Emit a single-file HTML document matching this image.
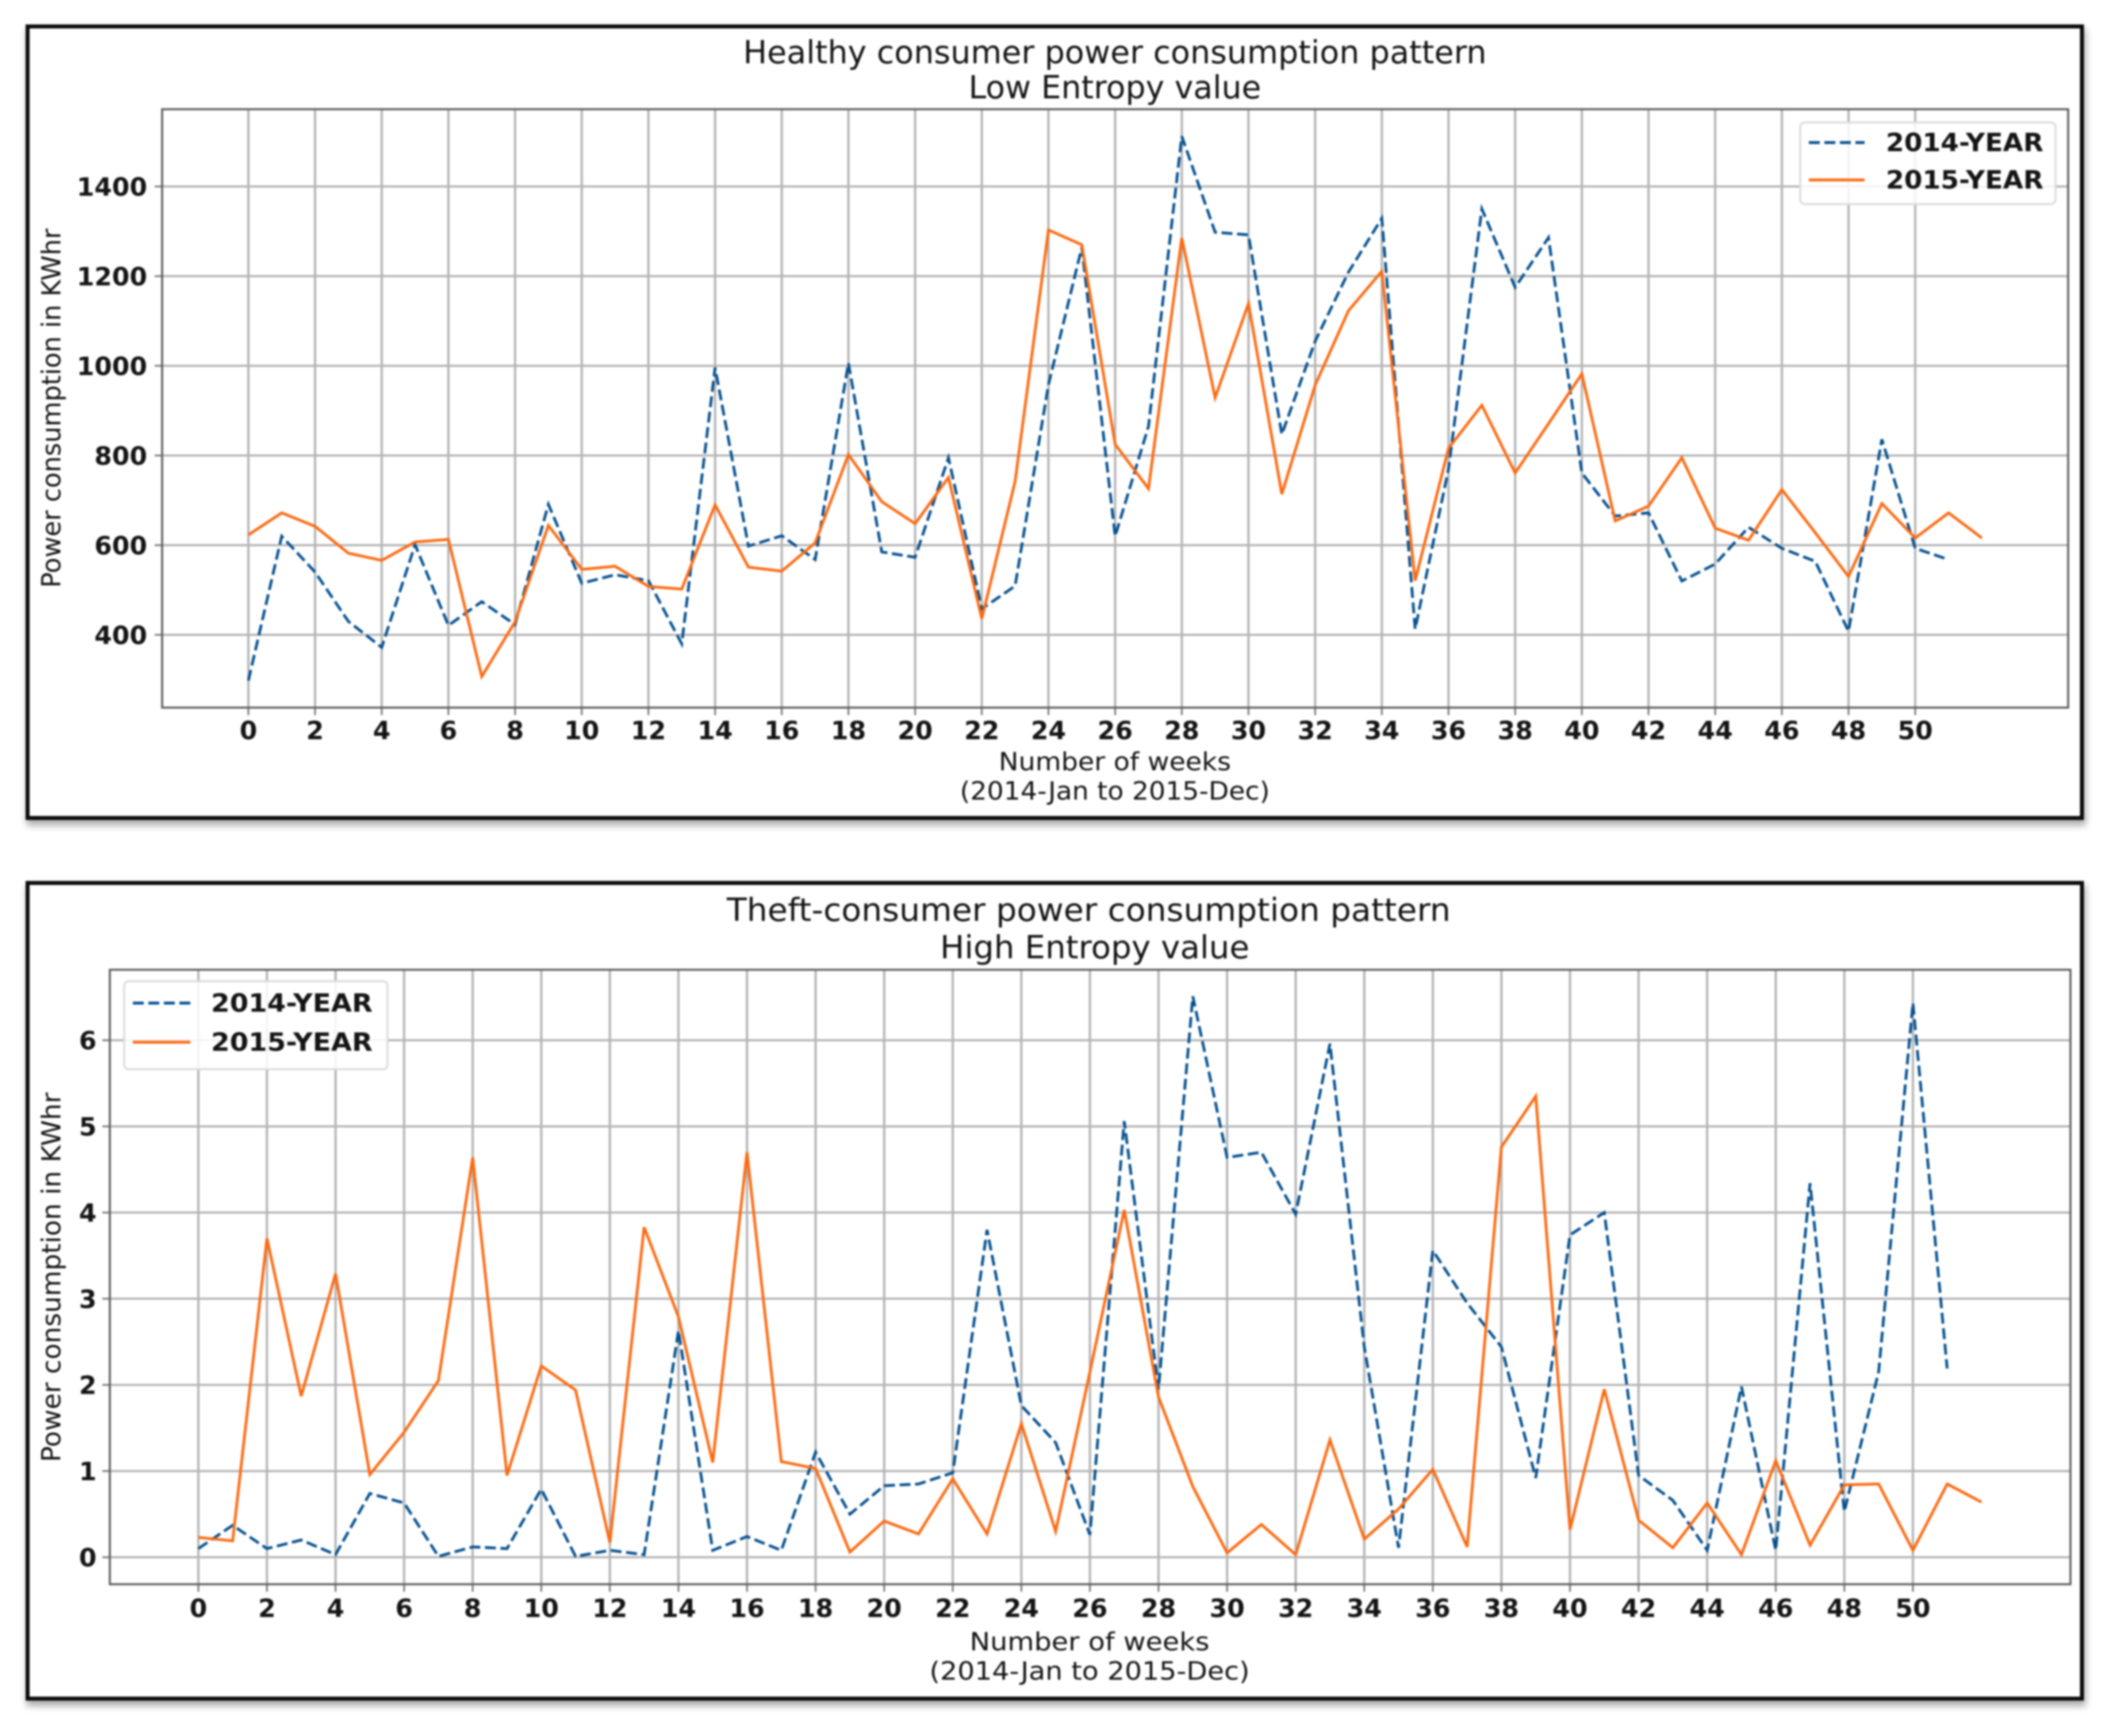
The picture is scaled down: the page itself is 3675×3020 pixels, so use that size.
<!DOCTYPE html>
<html lang="en">
<head>
<meta charset="utf-8">
<title>Consumer power consumption patterns</title>
<style>
  html, body { margin: 0; padding: 0; background: #fff; }
  #stage { display: block; width: 3675px; height: 3020px; filter: blur(1.6px); }
  text { font-family: "DejaVu Sans", "Liberation Sans", sans-serif; fill: #141414; }
</style>
</head>
<body>
<svg id="stage" xmlns="http://www.w3.org/2000/svg" width="3675" height="3020" viewBox="0 0 3675 3020">
  <defs>
    <filter id="soft" x="-5%" y="-5%" width="110%" height="110%"><feGaussianBlur stdDeviation="6"/></filter>
  </defs>
</svg>
<script>
const weekTicks = [0,2,4,6,8,10,12,14,16,18,20,22,24,26,28,30,32,34,36,38,40,42,44,46,48,50];
const seriesNames = ['2014-YEAR','2015-YEAR'];

const healthyYTicks = [400,600,800,1000,1200,1400];
const healthy2014 = [298,620,540,430,372,601,421,474,423,691,515,534,521,380,996,598,621,568,1006,585,573,795,458,509,958,1264,620,865,1512,1298,1292,847,1055,1209,1329,413,770,1350,1175,1286,761,665,672,520,558,640,593,564,408,836,593,568];
const healthy2015 = [623,672,642,582,566,607,613,307,429,644,546,553,508,502,690,551,542,605,802,697,648,751,436,742,1303,1270,825,726,1285,929,1139,714,957,1123,1211,521,816,912,761,871,982,654,687,795,638,611,724,628,530,693,616,672,616];

const theftYTicks = [0,1,2,3,4,5,6];
const theft2014 = [0.10,0.37,0.10,0.20,0.03,0.74,0.63,0.01,0.12,0.10,0.79,0.01,0.08,0.03,2.63,0.08,0.24,0.08,1.22,0.50,0.83,0.85,0.98,3.80,1.76,1.33,0.26,5.06,1.95,6.51,4.64,4.70,3.98,5.96,2.44,0.11,3.56,2.95,2.44,0.92,3.74,4.00,0.95,0.66,0.08,1.98,0.08,4.34,0.53,2.15,6.43,2.19];
const theft2015 = [0.23,0.19,3.70,1.87,3.29,0.96,1.45,2.05,4.64,0.95,2.22,1.94,0.17,3.83,2.79,1.10,4.70,1.11,1.03,0.06,0.42,0.27,0.91,0.27,1.55,0.30,2.15,4.03,1.86,0.82,0.05,0.38,0.03,1.36,0.21,0.56,1.02,0.12,4.76,5.35,0.32,1.95,0.43,0.11,0.63,0.03,1.12,0.14,0.84,0.85,0.08,0.85,0.64];

const NS = 'http://www.w3.org/2000/svg';
const svg = document.getElementById('stage');
const BLUE = '#05508f';
const ORANGE = '#fb6a12';

function make(parent, tag, props, text) {
  const el = document.createElementNS(NS, tag);
  for (const k in props) el.setAttribute(k, props[k]);
  if (text !== undefined) el.textContent = text;
  parent.appendChild(el);
  return el;
}

function label(parent, name, str, props) {
  const el = make(parent, 'text', props, str);
  
  
  return el;
}

function drawPanel(p) {
  const g = make(svg, 'g', {});
  
  

  const shadow = make(g, 'rect', { x: p.frame.x0 - 2, y: p.frame.y0 + 4, width: p.frame.x1 - p.frame.x0 + 9, height: p.frame.y1 - p.frame.y0 + 9, fill: '#000', opacity: 0.32, filter: 'url(#soft)' });
  
  

  const frame = make(g, 'rect', { x: p.frame.x0, y: p.frame.y0, width: p.frame.x1 - p.frame.x0, height: p.frame.y1 - p.frame.y0, fill: '#fff', stroke: '#0c0c0c', 'stroke-width': 7 });
  
  

  const xScale = v => p.x0px + v * p.xUnit;
  const yScale = v => p.yZeroPx - v * p.yUnit;

  p.yTicks.forEach(t => {
    const line = make(g, 'line', { x1: p.ax.x0, x2: p.ax.x1, y1: yScale(t), y2: yScale(t), stroke: '#b0b0b0', 'stroke-width': 3.5 });
    
    
    const mark = make(g, 'line', { x1: p.ax.x0 - 13, x2: p.ax.x0, y1: yScale(t), y2: yScale(t), stroke: '#777', 'stroke-width': 3 });
    
    
    label(g, 'y-tick-label', String(t), { x: p.yLabelRight, y: yScale(t) + 16, 'text-anchor': 'end', 'font-size': 44, 'font-weight': 'bold' });
  });
  weekTicks.forEach(t => {
    const line = make(g, 'line', { x1: xScale(t), x2: xScale(t), y1: p.ax.y0, y2: p.ax.y1, stroke: '#b4b4b4', 'stroke-width': 4 });
    
    
    const mark = make(g, 'line', { x1: xScale(t), x2: xScale(t), y1: p.ax.y1, y2: p.ax.y1 + 13, stroke: '#777', 'stroke-width': 3 });
    
    
    label(g, 'x-tick-label', String(t), { x: xScale(t), y: p.xLabelY, 'text-anchor': 'middle', 'font-size': 44, 'font-weight': 'bold' });
  });

  const axes = make(g, 'rect', { x: p.ax.x0, y: p.ax.y0, width: p.ax.x1 - p.ax.x0, height: p.ax.y1 - p.ax.y0, fill: 'none', stroke: '#5c5c5c', 'stroke-width': 3.5 });
  
  

  const toPoints = values => values.map((v, i) => xScale(i).toFixed(1) + ',' + yScale(v).toFixed(1)).join(' ');
  const line2014 = make(g, 'polyline', { points: toPoints(p.s2014), fill: 'none', stroke: BLUE, 'stroke-width': 4.8, 'stroke-dasharray': '19 8', 'stroke-linejoin': 'miter' });
  
  
  const line2015 = make(g, 'polyline', { points: toPoints(p.s2015), fill: 'none', stroke: ORANGE, 'stroke-width': 4.8, 'stroke-linejoin': 'miter' });
  
  

  label(g, 'chart-title', p.title[0], { x: p.titleX, y: p.titleY[0], 'text-anchor': 'middle', 'font-size': 55, textLength: p.titleLen[0], lengthAdjust: 'spacingAndGlyphs' });
  label(g, 'chart-subtitle', p.title[1], { x: p.titleX2, y: p.titleY[1], 'text-anchor': 'middle', 'font-size': 55, textLength: p.titleLen[1], lengthAdjust: 'spacingAndGlyphs' });
  label(g, 'x-axis-title', 'Number of weeks', { x: p.xTitleX, y: p.xTitleY[0], 'text-anchor': 'middle', 'font-size': 44, textLength: p.xTitleLen[0], lengthAdjust: 'spacingAndGlyphs' });
  label(g, 'x-axis-subtitle', '(2014-Jan to 2015-Dec)', { x: p.xTitleX, y: p.xTitleY[1], 'text-anchor': 'middle', 'font-size': 44, textLength: p.xTitleLen[1], lengthAdjust: 'spacingAndGlyphs' });
  label(g, 'y-axis-title', 'Power consumption in KWhr', { x: 0, y: 0, 'text-anchor': 'middle', 'font-size': 45, textLength: p.yTitleLen, lengthAdjust: 'spacingAndGlyphs', transform: 'translate(' + p.yTitleX + ' ' + p.yTitleY + ') rotate(-90)' });

  const lg = make(g, 'g', {});
  
  
  const box = make(lg, 'rect', { x: p.legend.x0, y: p.legend.y0, width: p.legend.x1 - p.legend.x0, height: p.legend.y1 - p.legend.y0, rx: 8, fill: '#fff', 'fill-opacity': 0.85, stroke: '#dcdcdc', 'stroke-width': 3.5 });
  
  
  seriesNames.forEach((name, i) => {
    const y = p.legend.rowY[i];
    const sw = make(lg, 'line', { x1: p.legend.lx0, x2: p.legend.lx1, y1: y, y2: y, stroke: i === 0 ? BLUE : ORANGE, 'stroke-width': 5 });
    if (i === 0) sw.setAttribute('stroke-dasharray', '19 8');
    
    
    label(lg, 'legend-entry', name, { x: p.legend.tx, y: y + 15, 'font-size': 44, 'font-weight': 'bold', textLength: p.legend.tw, lengthAdjust: 'spacingAndGlyphs' });
  });
}

drawPanel({
  id: 'healthy',
  frame: { x0: 48, y0: 46, x1: 3621, y1: 1423 },
  ax: { x0: 282, y0: 190, x1: 3597, y1: 1231 },
  x0px: 432, xUnit: 57.98,
  yZeroPx: 1416.4, yUnit: 0.78,
  yTicks: healthyYTicks,
  s2014: healthy2014, s2015: healthy2015,
  title: ['Healthy consumer power consumption pattern', 'Low Entropy value'],
  titleX: 1939, titleX2: 1939, titleY: [110, 171], titleLen: [1293, 509],
  xTitleX: 1939, xTitleY: [1340, 1391], xTitleLen: [404, 539],
  yTitleX: 105, yTitleY: 710, yTitleLen: 625,
  yLabelRight: 256, xLabelY: 1286,
  legend: { x0: 3131, y0: 213, x1: 3575, y1: 355, lx0: 3146, lx1: 3243, tx: 3280, tw: 274, rowY: [248, 313] }
});

drawPanel({
  id: 'theft',
  frame: { x0: 48, y0: 1536, x1: 3621, y1: 2955 },
  ax: { x0: 191, y0: 1687, x1: 3601, y1: 2756 },
  x0px: 345, xUnit: 59.64,
  yZeroPx: 2709, yUnit: 149.9,
  yTicks: theftYTicks,
  s2014: theft2014, s2015: theft2015,
  title: ['Theft-consumer power consumption pattern', 'High Entropy value'],
  titleX: 1893.5, titleX2: 1904, titleY: [1602, 1667], titleLen: [1259, 538],
  xTitleX: 1895, xTitleY: [2871, 2922], xTitleLen: [417, 557],
  yTitleX: 105, yTitleY: 2222, yTitleLen: 643,
  yLabelRight: 168, xLabelY: 2813,
  legend: { x0: 216, y0: 1707, x1: 674, y1: 1860, lx0: 231, lx1: 331, tx: 367, tw: 281, rowY: [1745, 1813] }
});
</script>
</body>
</html>
